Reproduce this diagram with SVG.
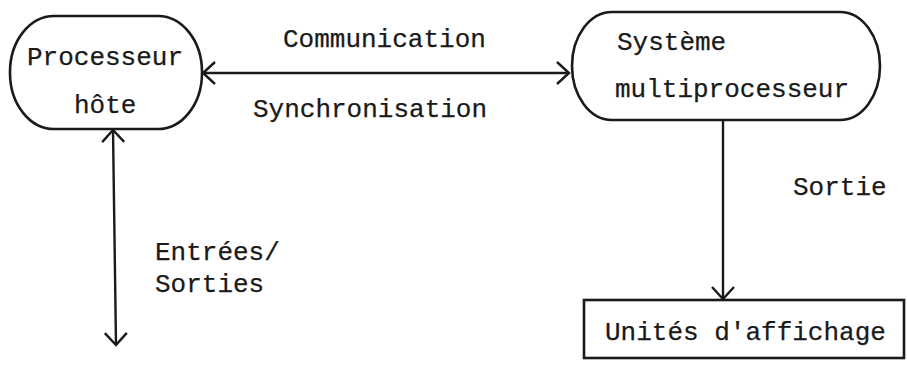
<svg xmlns="http://www.w3.org/2000/svg" width="907" height="365" viewBox="0 0 907 365">
  <style>
    .shape { fill: none; stroke: #1a1a1a; stroke-width: 2.6; }
    .wire { fill: none; stroke: #1a1a1a; stroke-width: 2.4; }
    .lbl { font-family: "Liberation Mono", "Courier New", monospace; font-size: 26px; fill: #1a1a1a; stroke: #1a1a1a; stroke-width: 0.25; }
  </style>
  <defs>
    <marker id="vee" markerUnits="userSpaceOnUse" viewBox="-14 -13 16 26" refX="0" refY="0" markerWidth="16" markerHeight="26" orient="auto-start-reverse">
      <path d="M -12 -11 L 0 0 L -12 11" fill="none" stroke="#1a1a1a" stroke-width="2.4"/>
    </marker>
  </defs>
  <rect width="907" height="365" fill="#ffffff"/>

  <g id="host">
    <rect class="shape" x="10" y="16" width="192" height="113" rx="44" ry="56"/>
    <text class="lbl" x="27" y="65">Processeur</text>
    <text class="lbl" x="74" y="113">hôte</text>
  </g>

  <g id="multiproc">
    <rect class="shape" x="572" y="12" width="308" height="108" rx="40" ry="54"/>
    <text class="lbl" x="617" y="50">Système</text>
    <text class="lbl" x="615" y="97">multiprocesseur</text>
  </g>

  <g id="display">
    <rect class="shape" x="584" y="300" width="320" height="58"/>
    <text class="lbl" x="605" y="340">Unités d'affichage</text>
  </g>

  <g id="connectors">
    <line class="wire" x1="203" y1="73" x2="569" y2="73" marker-start="url(#vee)" marker-end="url(#vee)"/>
    <line class="wire" x1="113" y1="130" x2="116" y2="345" marker-start="url(#vee)" marker-end="url(#vee)"/>
    <line class="wire" x1="723" y1="120" x2="723" y2="299" marker-end="url(#vee)"/>
  </g>

  <g id="labels">
    <text class="lbl" x="283" y="47">Communication</text>
    <text class="lbl" x="253" y="117">Synchronisation</text>
    <text class="lbl" x="793" y="195">Sortie</text>
    <text class="lbl" x="155" y="260">Entrées/</text>
    <text class="lbl" x="155" y="292">Sorties</text>
  </g>
</svg>
